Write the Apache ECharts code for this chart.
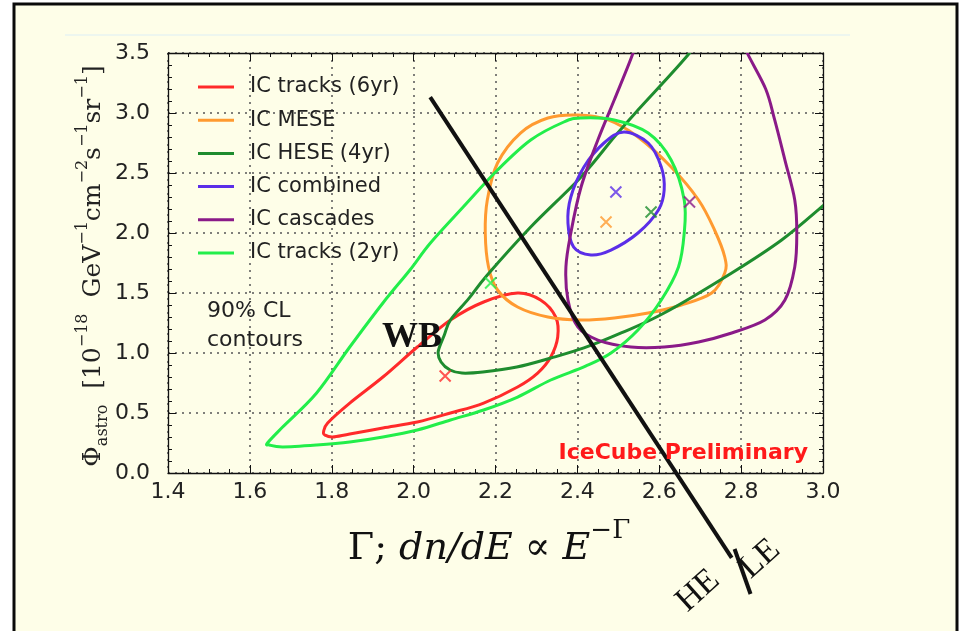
<!DOCTYPE html>
<html>
<head>
<meta charset="utf-8">
<script src="https://cdn.jsdelivr.net/npm/echarts@6/dist/echarts.min.js"></script>
<style>
html,body{margin:0;padding:0;background:#ffffff;}
#chart{width:961px;height:631px;}
</style>
</head>
<body>
<div id="chart"></div>
<script>
// ---- axis ranges / ticks ----
const xRange = [1.4, 3.0];
const xStep = 0.2;
const yRange = [0.0, 3.5];
const yStep = 0.5;

// ---- legend names ----
const seriesNames = ['IC tracks (6yr)', 'IC MESE', 'IC HESE (4yr)', 'IC combined', 'IC cascades', 'IC tracks (2yr)'];
const seriesColors = ['#ff2a2a', '#ff9a30', '#1e8c2e', '#5b2ee8', '#8a1a88', '#22ee4a'];

// ---- 90% CL contours, [Gamma, Phi] (closed ones repeat first point at end) ----
const tracks6yr = [
  [1.780,0.342],[1.790,0.417],[1.844,0.583],[1.925,0.800],[2.009,1.050],[2.090,1.275],
  [2.171,1.425],[2.254,1.500],[2.310,1.442],[2.347,1.300],[2.352,1.133],[2.335,0.967],
  [2.303,0.833],[2.254,0.717],[2.171,0.583],[2.090,0.500],[2.009,0.425],[1.925,0.375],
  [1.844,0.325],[1.802,0.300],[1.783,0.317],[1.780,0.342]
];
const mese = [
  [2.401,2.983],[2.475,2.942],[2.548,2.800],[2.629,2.550],[2.696,2.275],[2.735,2.025],
  [2.760,1.800],[2.760,1.667],[2.728,1.500],[2.654,1.400],[2.573,1.333],[2.490,1.292],
  [2.409,1.275],[2.328,1.300],[2.254,1.383],[2.205,1.525],[2.183,1.717],[2.175,2.000],
  [2.180,2.275],[2.205,2.583],[2.261,2.833],[2.328,2.958],[2.401,2.983]
];
const hese4yr = [
  [2.720,3.750],[2.674,3.500],[2.548,3.025],[2.490,2.800],[2.409,2.467],[2.286,2.050],
  [2.180,1.650],[2.135,1.455],[2.090,1.275],[2.075,1.150],[2.060,1.010],[2.067,0.925],
  [2.089,0.858],[2.118,0.833],[2.169,0.842],[2.252,0.883],[2.335,0.958],[2.416,1.042],
  [2.507,1.167],[2.612,1.333],[2.777,1.667],[2.899,1.942],[3.002,2.233],[3.060,2.400]
];
const combined = [
  [2.514,2.842],[2.573,2.750],[2.605,2.550],[2.612,2.358],[2.598,2.192],[2.548,2.000],
  [2.482,1.858],[2.433,1.817],[2.391,1.883],[2.377,2.083],[2.384,2.300],[2.416,2.550],
  [2.465,2.750],[2.514,2.842]
];
const cascades = [
  [2.546,3.650],[2.536,3.500],[2.490,3.108],[2.450,2.775],[2.409,2.383],[2.384,2.000],
  [2.372,1.717],[2.377,1.442],[2.401,1.217],[2.450,1.108],[2.531,1.050],[2.612,1.050],
  [2.696,1.092],[2.777,1.167],[2.858,1.275],[2.907,1.442],[2.931,1.717],[2.936,2.000],
  [2.931,2.275],[2.907,2.608],[2.882,2.942],[2.860,3.200],[2.815,3.500],[2.800,3.650]
];
const tracks2yr = [
  [1.643,0.250],[1.680,0.383],[1.763,0.667],[1.844,1.050],[1.925,1.417],[1.991,1.692],
  [2.041,1.917],[2.121,2.217],[2.205,2.525],[2.286,2.775],[2.367,2.925],[2.409,2.958],
  [2.490,2.942],[2.573,2.833],[2.629,2.608],[2.661,2.275],[2.661,2.000],[2.647,1.717],
  [2.605,1.442],[2.548,1.192],[2.482,1.000],[2.420,0.890],[2.335,0.775],[2.254,0.633],
  [2.171,0.525],[2.090,0.442],[2.009,0.358],[1.925,0.300],[1.844,0.258],[1.763,0.233],
  [1.680,0.217],[1.648,0.233],[1.643,0.250]
];

// ---- best-fit points ----
const bestFits = [
  [2.077,0.808],[2.470,2.092],[2.580,2.175],[2.494,2.342],[2.674,2.258],[2.188,1.583]
];

// ---- WB annotation line (HE | LE divider) ----
const wbLine = [[2.0405,3.133],[2.777,-0.708]];
const heLeBar = [[2.784,-0.633],[2.823,-1.008]];

const contours = [tracks6yr, mese, hese4yr, combined, cascades, tracks2yr];

const chart = echarts.init(document.getElementById('chart'), null, {renderer:'canvas'});

const gridDef = {left:168, top:53, width:655, height:420, show:false};
const fmt = v => v.toFixed(1);
const lab = {fontFamily:'DejaVu Sans', fontSize:22, color:'#222'};
const tickStyle = {color:'#111', width:1};

function xAx(pos, main){
  return {
    type:'value', position:pos, min:xRange[0], max:xRange[1], interval:xStep,
    axisLine:{show:true, onZero:false, lineStyle:{color:'#111', width:1.3}},
    axisTick:{show:true, inside:true, length:8, lineStyle:tickStyle},
    minorTick:{show:true, splitNumber:4, length:4, lineStyle:tickStyle},
    axisLabel:main ? Object.assign({show:true, margin:8, formatter:fmt}, lab) : {show:false},
    splitLine:{show:main, lineStyle:{type:[2,5], color:'#555', width:1.5}}
  };
}
function yAx(pos, main){
  return {
    type:'value', position:pos, min:yRange[0], max:yRange[1], interval:yStep,
    axisLine:{show:true, onZero:false, lineStyle:{color:'#111', width:1.3}},
    axisTick:{show:true, inside:true, length:8, lineStyle:tickStyle},
    minorTick:{show:true, splitNumber:5, length:4, lineStyle:tickStyle},
    axisLabel:main ? Object.assign({show:true, margin:18, formatter:fmt}, lab) : {show:false},
    splitLine:{show:main, lineStyle:{type:[2,5], color:'#555', width:1.5}}
  };
}

// smooth Catmull-Rom path through pixel points (closed if first == last)
function smoothPath(pts){
  const n0 = pts.length;
  const closed = pts[0][0] === pts[n0-1][0] && pts[0][1] === pts[n0-1][1];
  const p = closed ? pts.slice(0, n0-1) : pts.slice();
  const n = p.length;
  const get = i => {
    if (closed) return p[(i % n + n) % n];
    return p[Math.max(0, Math.min(n-1, i))];
  };
  let d = 'M' + p[0][0] + ' ' + p[0][1];
  const segs = closed ? n : n - 1;
  for (let i = 0; i < segs; i++){
    const a = get(i-1), b = get(i), c = get(i+1), e = get(i+2);
    const c1x = b[0] + (c[0]-a[0])/6, c1y = b[1] + (c[1]-a[1])/6;
    const c2x = c[0] - (e[0]-b[0])/6, c2y = c[1] - (e[1]-b[1])/6;
    d += ' C' + c1x + ' ' + c1y + ' ' + c2x + ' ' + c2y + ' ' + c[0] + ' ' + c[1];
  }
  if (closed) d += ' Z';
  return d;
}

const series = [];
contours.forEach((c, i) => {
  series.push({
    name: seriesNames[i], type:'custom', data:c, clip:true, silent:true,
    itemStyle:{color:seriesColors[i]}, z:3,
    encode:{x:0, y:1},
    renderItem:(params, api) => {
      if (params.dataIndex !== 0) return null;
      const px = c.map(pt => api.coord(pt));
      return {
        type:'path',
        shape:{pathData:smoothPath(px)},
        style:{fill:'none', stroke:seriesColors[i], lineWidth:3, lineJoin:'round'}
      };
    }
  });
});
bestFits.forEach((p, i) => {
  series.push({
    name:'bf' + i, type:'scatter', data:[p],
    symbol:'path://M0,0L10,10M10,0L0,10', symbolSize:11,
    itemStyle:{color:'rgba(0,0,0,0)', borderColor:seriesColors[i], borderWidth:2}, z:4
  });
});
series.push({
  name:'WB', type:'line', data:wbLine, symbol:'none', clip:false, silent:true,
  lineStyle:{color:'#111', width:4}, z:5
});
series.push({
  name:'HELE', type:'line', data:heLeBar, symbol:'none', clip:false, silent:true,
  lineStyle:{color:'#111', width:4}, z:5
});

const option = {
  backgroundColor:'transparent',
  animation:false,
  grid:gridDef,
  xAxis:[xAx('bottom', true), xAx('top', false)],
  yAxis:[yAx('left', true), yAx('right', false)],
  legend:{
    data:seriesNames.map((n, i) => ({name:n, itemStyle:{color:seriesColors[i]}})),
    orient:'vertical', left:193, top:70,
    icon:'rect', itemWidth:36, itemHeight:3, itemGap:9.2,
    textStyle:{fontFamily:'DejaVu Sans', fontSize:21, color:'#222', lineHeight:24, padding:[0,0,0,11]},
    selectedMode:false
  },
  series:series,
  graphic:[
    {type:'rect', z:-10, shape:{x:14, y:4, width:943, height:640},
     style:{fill:'#fefee8', stroke:'#0a0a0a', lineWidth:3}},
    {type:'rect', z:-9, shape:{x:65, y:34, width:785, height:2},
     style:{fill:'rgba(232,244,240,0.8)'}},
    {type:'text', left:207, top:297, z:10,
     style:{text:'90% CL\ncontours', fontFamily:'DejaVu Sans', fontSize:22, lineHeight:29, fill:'#222'}},
    {type:'text', x:412, y:338, z:10,
     style:{text:'WB', fontFamily:'Liberation Serif', fontWeight:'bold', fontSize:36, fill:'#111',
            align:'center', verticalAlign:'middle'}},
    {type:'text', x:808, y:453, z:10,
     style:{text:'IceCube Preliminary', fontFamily:'DejaVu Sans', fontWeight:'bold', fontSize:22, fill:'#ff1a1a',
            align:'right', verticalAlign:'middle'}},
    {type:'text', x:698, y:591, rotation:42*Math.PI/180, z:10,
     style:{text:'HE', fontFamily:'Liberation Serif', fontSize:34, fill:'#111', align:'center', verticalAlign:'middle'}},
    {type:'text', x:760, y:559, rotation:42*Math.PI/180, z:10,
     style:{text:'LE', fontFamily:'Liberation Serif', fontSize:34, fill:'#111', align:'center', verticalAlign:'middle'}},
    {type:'text', x:489, y:543, z:10,
     style:{
       text:'{n|Γ; }{i|dn/dE}{n| ∝ }{i|E}{sup|−Γ}',
       align:'center', verticalAlign:'middle',
       rich:{
         n:{fontFamily:'DejaVu Serif', fontSize:38, fill:'#111', lineHeight:50, verticalAlign:'bottom'},
         i:{fontFamily:'DejaVu Serif', fontStyle:'italic', fontSize:38, fill:'#111', lineHeight:50, verticalAlign:'bottom'},
         sup:{fontFamily:'DejaVu Serif', fontSize:26, fill:'#111', lineHeight:50, verticalAlign:'top'}
       }
     }},
    {type:'text', x:93, y:266, rotation:Math.PI/2, z:10,
     style:{
       text:'{b|Φ}{sub|astro}{b|  [10}{sup|−18}{b|  GeV}{sup|−1}{b|cm}{sup|−2}{b|s}{sup|−1}{b|sr}{sup|−1}{b|]}',
       align:'center', verticalAlign:'middle',
       rich:{
         b:{fontFamily:'DejaVu Serif', fontSize:25, fill:'#222', lineHeight:36, verticalAlign:'middle'},
         sub:{fontFamily:'DejaVu Serif', fontSize:16, fill:'#222', lineHeight:36, verticalAlign:'bottom'},
         sup:{fontFamily:'DejaVu Serif', fontSize:16, fill:'#222', lineHeight:36, verticalAlign:'top'}
       }
     }}
  ]
};
chart.setOption(option);
</script>
</body>
</html>
